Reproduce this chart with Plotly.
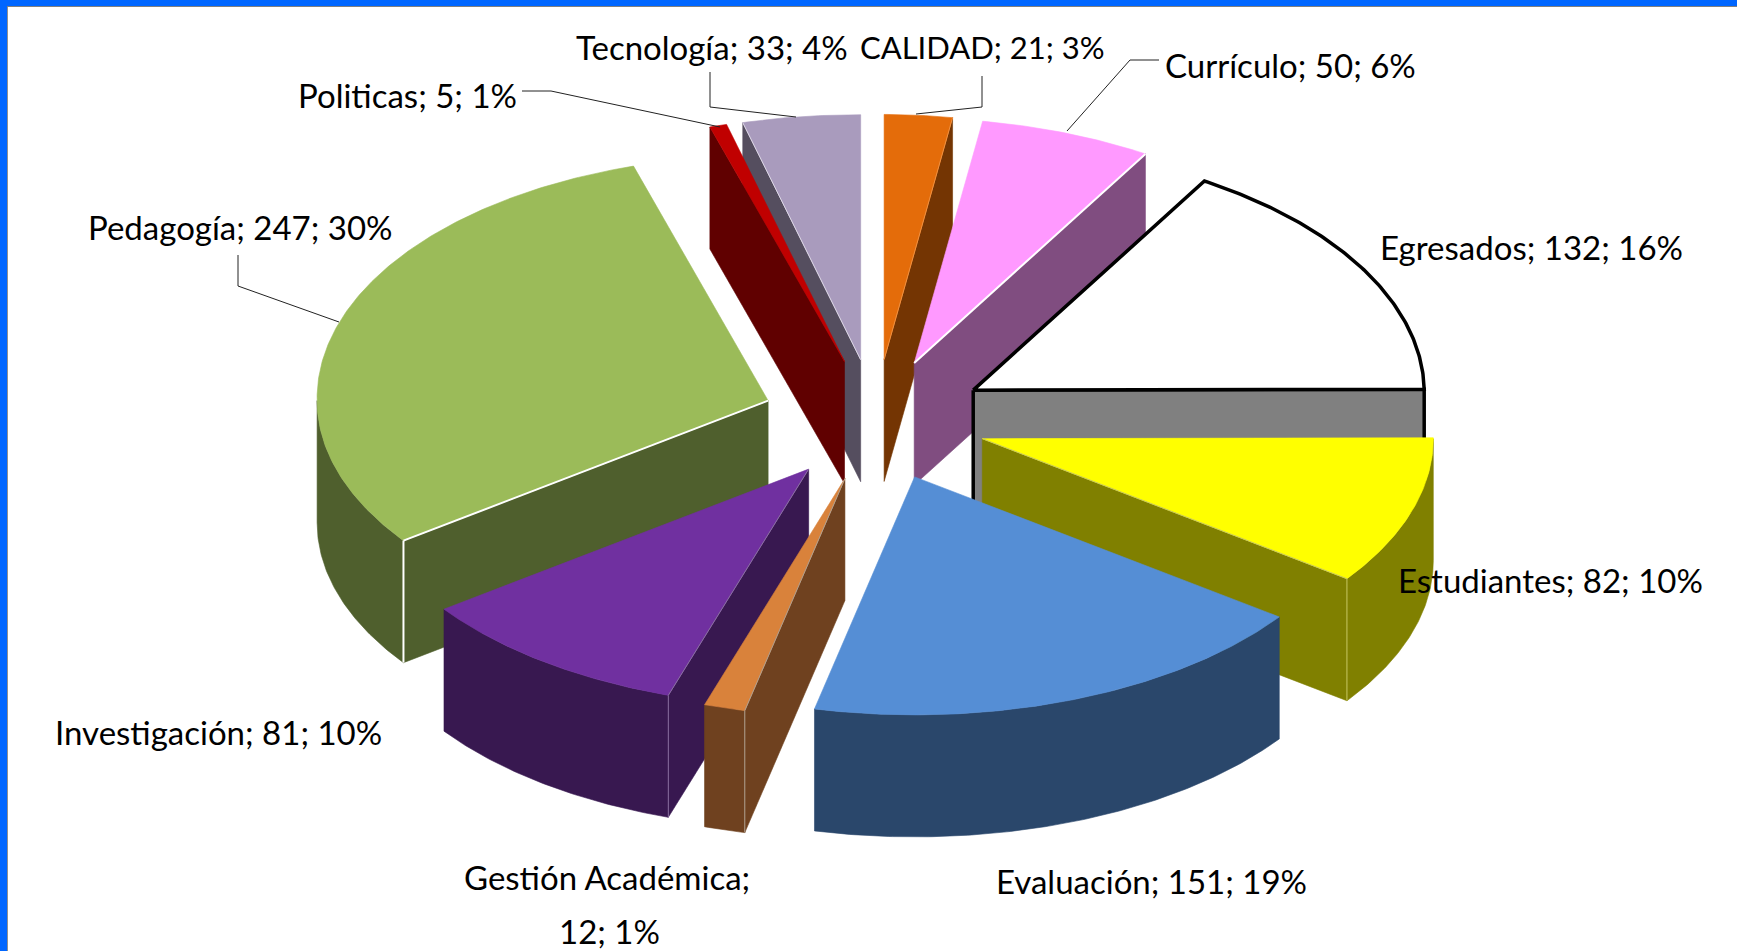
import math
import plotly.graph_objects as go

# ---- data ----
categories = ["CALIDAD", "Currículo", "Egresados", "Estudiantes", "Evaluación",
              "Gestión Académica", "Investigación", "Pedagogía", "Politicas", "Tecnología"]
values = [21, 50, 132, 82, 151, 12, 81, 247, 5, 33]

# ---- styles ----
top_colors = ["#E46C0A", "#FF99FF", "#FFFFFF", "#FFFF00", "#558ED5",
              "#D9823B", "#7030A0", "#9BBB59", "#C00000", "#A99BBD"]
side_colors = ["#743503", "#804D80", "#808080", "#808000", "#2A476B",
               "#6F411F", "#381850", "#4F5F2D", "#600000", "#554E5F"]
draw_order = ["Tecnología", "Politicas", "CALIDAD", "Currículo", "Egresados", "Estudiantes",
              "Pedagogía", "Investigación", "Gestión Académica", "Evaluación"]
edge_style = {"Pedagogía": ("#FFFFFF", 2), "Currículo": ("#FFFFFF", 2), "Tecnología": ("#DDD8E6", 1),
              "Estudiantes": ("#C8C860", 1), "Gestión Académica": ("#B0A090", 1),
              "Investigación": ("#8A70A0", 1), "CALIDAD": ("#F09040", 1)}
outlined = {"Egresados": ("#000000", 3.5)}
label_sizes = {"CALIDAD": 31}

# ---- layout of the 3-D pie ----
CX, CY, RX, RY_BACK, RY_FRONT, DEPTH, PULL = 875, 420, 451, 245, 238, 122, 0.25
BACK_SHEAR = 4.4  # the far rim leans slightly to the left in the perspective view

label_layout = {
    "Tecnología": [(712, 47)], "CALIDAD": [(982, 47)], "Currículo": [(1290, 65)],
    "Politicas": [(407, 95)], "Pedagogía": [(240, 227)], "Egresados": [(1531, 247)],
    "Estudiantes": [(1550, 580)], "Investigación": [(218, 732)],
    "Gestión Académica": [(607, 877), (609, 931)], "Evaluación": [(1151, 881)],
}
leaders = [
    [(710, 72), (710, 107), (796, 117)],
    [(982, 76), (982, 107), (916, 114)],
    [(1159, 60), (1130, 60), (1067, 131)],
    [(522, 91), (551, 91), (720, 127)],
    [(238, 255), (238, 286), (339, 322)],
]

total = sum(values)


def arc(apex, a0, a1, dy=0.0, n=None):
    n = n or max(2, int(abs(a1 - a0) * 2))
    pts = []
    for i in range(n + 1):
        a = math.radians(a0 + (a1 - a0) * i / n)
        c, s = math.cos(a), math.sin(a)
        ry = RY_BACK if c >= 0 else RY_FRONT
        lean = BACK_SHEAR * max(c, 0) * min(1.0, abs(s) / 0.15)
        pts.append((apex[0] + RX * s - lean, apex[1] - ry * c + dy))
    return pts


def poly(fig, pts, fill, line=None, width=0.6):
    xs = [p[0] for p in pts] + [pts[0][0]]
    ys = [p[1] for p in pts] + [pts[0][1]]
    fig.add_trace(go.Scatter(x=xs, y=ys, mode="lines", fill="toself", fillcolor=fill,
                             line=dict(color=line or fill, width=width),
                             hoverinfo="skip", showlegend=False))


def seg(fig, pts, color, width):
    fig.add_trace(go.Scatter(x=[p[0] for p in pts], y=[p[1] for p in pts], mode="lines",
                             line=dict(color=color, width=width), hoverinfo="skip", showlegend=False))


fig = go.Figure()

angles = {}
acc = 0.0
for name, v in zip(categories, values):
    sweep = v / total * 360
    angles[name] = (acc, acc + sweep)
    acc += sweep

for name in draw_order:
    i = categories.index(name)
    a0, a1 = angles[name]
    mid = math.radians((a0 + a1) / 2)
    apex = (CX + PULL * RX * math.sin(mid), CY - PULL * 243 * math.cos(mid))
    top, side = top_colors[i], side_colors[i]
    ol = outlined.get(name)
    lc, lw = ol if ol else (None, 0.6)

    faces = []
    if 0 < a1 < 180:
        faces.append(a1)
    if 180 < a0 < 360:
        faces.append(a0)

    # outer wall on the visible front half
    w0, w1 = max(a0, 90), min(a1, 270)
    if w1 > w0:
        upper = arc(apex, w0, w1)
        lower = arc(apex, w0, w1, DEPTH)
        poly(fig, upper + lower[::-1], side, lc, lw)
    # radial cut faces
    for th in faces:
        rim = arc(apex, th, th, n=1)[0]
        poly(fig, [apex, rim, (rim[0], rim[1] + DEPTH), (apex[0], apex[1] + DEPTH)], side, lc, lw)
    # top face
    poly(fig, [apex] + arc(apex, a0, a1), top, lc, lw)
    # highlighted edges
    if name in edge_style:
        col, wid = edge_style[name]
        for th in faces:
            rim = arc(apex, th, th, n=1)[0]
            seg(fig, [apex, rim], col, wid)
            if 90 <= th <= 270:
                seg(fig, [rim, (rim[0], rim[1] + DEPTH)], col, wid)

# labels, built from the values
annotations = []
for name, v in zip(categories, values):
    pct = round(v / total * 100)
    full = f"{name}; {v}; {pct}%"
    spots = label_layout[name]
    lines = [full] if len(spots) == 1 else [f"{name};", f"{v}; {pct}%"]
    for (x, y), line in zip(spots, lines):
        annotations.append(dict(x=x, y=y, xref="x", yref="y", text=line, showarrow=False,
                                xanchor="center", yanchor="middle",
                                font=dict(family="Lato, Carlito, sans-serif",
                                          size=label_sizes.get(name, 33), color="#000000")))

shapes = []
for pts in leaders:
    path = "M " + " L ".join(f"{x},{y}" for x, y in pts)
    shapes.append(dict(type="path", path=path, xref="x", yref="y",
                       line=dict(color="#222222", width=1)))
# frame: blue band on the left and top edges with a thin grey inner line
shapes += [
    dict(type="rect", xref="paper", yref="paper", x0=0, x1=7 / 1737, y0=0, y1=1,
         fillcolor="#0066FF", line_width=0, layer="below"),
    dict(type="rect", xref="paper", yref="paper", x0=0, x1=1, y0=1 - 6 / 951, y1=1,
         fillcolor="#0066FF", line_width=0, layer="below"),
    dict(type="rect", xref="paper", yref="paper", x0=7 / 1737, x1=8 / 1737, y0=0, y1=1 - 6 / 951,
         fillcolor="#909090", line_width=0, layer="below"),
    dict(type="rect", xref="paper", yref="paper", x0=7 / 1737, x1=1, y0=1 - 7 / 951, y1=1 - 6 / 951,
         fillcolor="#808080", line_width=0, layer="below"),
]

fig.update_layout(
    width=1737, height=951, margin=dict(l=0, r=0, t=0, b=0),
    paper_bgcolor="#FFFFFF", plot_bgcolor="rgba(0,0,0,0)", showlegend=False,
    xaxis=dict(range=[0, 1737], visible=False, fixedrange=True),
    yaxis=dict(range=[951, 0], visible=False, fixedrange=True),
    annotations=annotations, shapes=shapes,
)

fig.write_html("out.html", config={"displayModeBar": False},
               post_script="document.body.style.margin='0';document.body.style.overflow='hidden';")
